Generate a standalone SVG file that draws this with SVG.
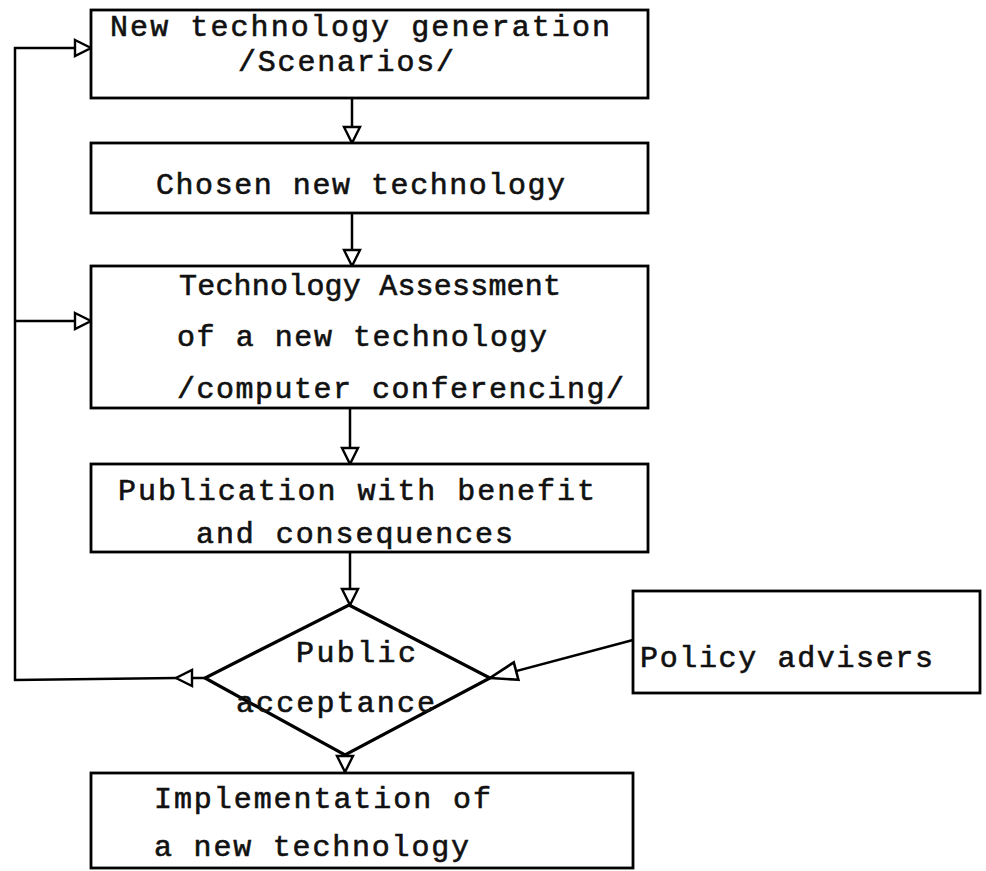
<svg xmlns="http://www.w3.org/2000/svg" width="986" height="871" viewBox="0 0 986 871">
<style>
.box{fill:#fff;stroke:#000;stroke-width:2.8}
.dia{fill:#fff;stroke:#000;stroke-width:3.2}
.ln{fill:none;stroke:#000;stroke-width:2.5}
.t{font-family:"Liberation Mono","Courier New",monospace;font-size:30px;fill:#111;stroke:#111;stroke-width:0.6}
</style>
<defs>
<marker id="tri" markerUnits="userSpaceOnUse" markerWidth="20" markerHeight="20" refX="16" refY="8" orient="auto" overflow="visible">
<path d="M0,0 L16,8 L0,16 Z" fill="#fff" stroke="#000" stroke-width="2.4"/>
</marker>
<marker id="big" markerUnits="userSpaceOnUse" markerWidth="30" markerHeight="22" refX="27" refY="9" orient="auto" overflow="visible">
<path d="M0,0 L27,9 L0,18 Z" fill="#fff" stroke="#000" stroke-width="2.6"/>
</marker>
</defs>
<rect x="0" y="0" width="986" height="871" fill="#fff"/>
<g id="connectors">
<path class="ln" d="M352,98 L352,143" marker-end="url(#tri)"/>
<path class="ln" d="M352,213 L352,266" marker-end="url(#tri)"/>
<path class="ln" d="M350,408 L350,464" marker-end="url(#tri)"/>
<path class="ln" d="M350,552 L350,605" marker-end="url(#tri)"/>
<path class="ln" d="M345,755 L345,772" marker-end="url(#tri)"/>
<path class="ln" d="M205,678 L176,678" marker-end="url(#tri)"/>
<path class="ln" d="M176,678 L15,680 L15,48 L91,48" marker-end="url(#tri)"/>
<path class="ln" d="M15,321 L91,321" marker-end="url(#tri)"/>
<path class="ln" d="M633,640 L490,678" marker-end="url(#big)"/>
</g>
<g id="n1">
<rect class="box" x="91" y="10" width="557" height="88"/>
<text class="t" x="110" y="36" textLength="500" lengthAdjust="spacing">New technology generation</text>
<text class="t" x="238" y="71" textLength="216" lengthAdjust="spacing">/Scenarios/</text>
</g>
<g id="n2">
<rect class="box" x="91" y="143" width="557" height="70"/>
<text class="t" x="156" y="194" textLength="409" lengthAdjust="spacing">Chosen new technology</text>
</g>
<g id="n3">
<rect class="box" x="91" y="266" width="557" height="142"/>
<text class="t" x="179" y="295" textLength="382" lengthAdjust="spacing">Technology Assessment</text>
<text class="t" x="177" y="346" textLength="370" lengthAdjust="spacing">of a new technology</text>
<text class="t" x="177" y="398" textLength="447" lengthAdjust="spacing">/computer conferencing/</text>
</g>
<g id="n4">
<rect class="box" x="91" y="464" width="557" height="88"/>
<text class="t" x="118" y="500" textLength="477" lengthAdjust="spacing">Publication with benefit</text>
<text class="t" x="196" y="543" textLength="317" lengthAdjust="spacing">and consequences</text>
</g>
<g id="n5">
<polygon class="dia" points="349,605 490,678 345,755 205,678"/>
<text class="t" x="296" y="662" textLength="120" lengthAdjust="spacing">Public</text>
<text class="t" x="236" y="712" textLength="199" lengthAdjust="spacing">acceptance</text>
</g>
<g id="n6">
<rect class="box" x="633" y="591" width="347" height="102"/>
<text class="t" x="640" y="667" textLength="293" lengthAdjust="spacing">Policy advisers</text>
</g>
<g id="n7">
<rect class="box" x="91" y="773" width="542" height="95"/>
<text class="t" x="154" y="808" textLength="337" lengthAdjust="spacing">Implementation of</text>
<text class="t" x="154" y="856" textLength="315" lengthAdjust="spacing">a new technology</text>
</g>
</svg>
